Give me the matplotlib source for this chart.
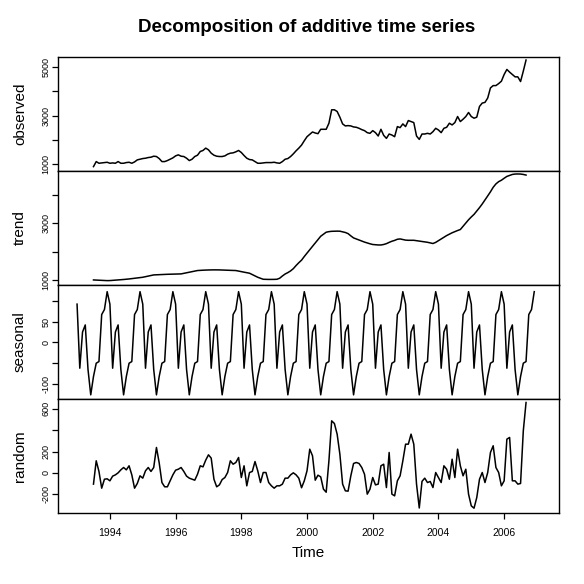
"""Additive decomposition panels: observed / trend / seasonal / random."""

import numpy as np
import matplotlib

matplotlib.use("Agg")
import matplotlib.pyplot as plt

plt.rcParams["font.family"] = ["Liberation Sans", "DejaVu Sans"]

# monthly series, observed/trend/random run Jul 1993 .. Sep 2006
START_YEAR = 1993.5

observed = [
    889, 1097, 1028, 1042, 1055, 1069, 1028, 1042, 1028, 1097, 1028, 1028,
    1056, 1069, 1028, 1083, 1167, 1194, 1222, 1236, 1264, 1278, 1319, 1306,
    1222, 1097, 1097, 1139, 1194, 1250, 1333, 1375, 1319, 1306, 1236, 1139,
    1194, 1306, 1361, 1514, 1556, 1653, 1583, 1444, 1361, 1319, 1306, 1306,
    1333, 1403, 1444, 1458, 1500, 1556, 1472, 1347, 1236, 1181, 1167, 1097,
    1028, 1028, 1042, 1056, 1056, 1056, 1069, 1042, 1028, 1097, 1194, 1222,
    1306, 1417, 1542, 1653,
    1778, 1958, 2125, 2222, 2320, 2278, 2250, 2431, 2431, 2431, 2681, 3236,
    3236, 3167, 2931, 2653, 2570, 2583, 2570, 2528, 2514, 2472, 2417, 2375,
    2292, 2264, 2375, 2292, 2153, 2431, 2181, 2056, 2236, 2194, 2125, 2542,
    2500, 2653, 2542, 2792, 2750, 2708, 2153, 2014, 2236, 2236, 2264, 2236,
    2333, 2472, 2403, 2292, 2472, 2514, 2681, 2611, 2708, 2958, 2750, 2847,
    2958, 3125, 2958, 2889, 2931, 3375, 3514, 3542, 3722, 4139, 4236, 4236,
    4319, 4417, 4694, 4903, 4792, 4694, 4597, 4597, 4403, 4833, 5292,
]

trend = [
    1000, 995, 990, 985, 980, 976, 978, 985, 992, 1000, 1008, 1016,
    1024, 1035, 1047, 1060, 1072, 1084, 1095, 1115, 1135, 1155, 1178, 1183,
    1188, 1192, 1196, 1200, 1203, 1206, 1209, 1212, 1214, 1234, 1254, 1274,
    1294, 1314, 1333, 1340, 1345, 1350, 1353, 1356, 1357, 1357, 1355, 1352,
    1348, 1344, 1340, 1336, 1333, 1315, 1295, 1275, 1255, 1238, 1190, 1140,
    1095, 1060, 1024, 1020, 1018, 1018, 1020, 1024, 1060, 1140, 1210, 1260,
    1320, 1400, 1510, 1610, 1700, 1830, 1952, 2070, 2190, 2310, 2430, 2547,
    2620, 2690, 2710, 2722, 2726, 2728, 2726, 2705, 2680, 2640, 2560, 2488,
    2450, 2410, 2375, 2340, 2309, 2280, 2255, 2245, 2238, 2238, 2255, 2285,
    2330, 2370, 2400, 2440, 2452, 2430, 2410, 2404, 2404, 2404, 2390, 2375,
    2360, 2345, 2333, 2310, 2290, 2330, 2390, 2450, 2510, 2571, 2620, 2670,
    2710, 2750, 2785, 2900, 3020, 3130, 3230, 3321, 3440, 3560, 3690, 3830,
    3975, 4120, 4280, 4400, 4480, 4530, 4600, 4665, 4700, 4735, 4749, 4752,
    4749, 4735, 4713,
]

random_part = [
    -106, 113, 13, -144, -60, -56, -75, -31, -19, 0, 28, 50,
    28, 66, -19, -144, -100, -28, -50, 19, 50, 13, 50, 238,
    94, -91, -131, -131, -75, -19, 25, 34, 50, 13, -31, -50,
    -60, -69, -13, 66, 56, 119, 169, 138, -60, -131, -113, -63,
    -44, 3, 113, 81, 97, 144, -44, 66, -122, 3, 13, 106,
    19, -91, 3, 3, -91, -122, -144, -122, -122, -106, -50, -50,
    -19, 0, -19, -50,
    -140, -75, 19, 222, 160, -69, -22, -38, -153, -182, 113, 488,
    463, 363, 175, -106, -169, -172, -28, 88, 97, 88, 50, -13,
    -200, -153, -44, -113, -106, 66, 81, -138, 191, -200, -216, -75,
    -28, 113, 269, 269, 363, 269, -106, -330, -80, -50, -91, -81,
    -138, 3, -44, -91, 66, 34, -60, 128, -44, 222, 66, -28,
    34, -200, -310, -332, -232, -60, 3, -91, 3, 191, 254, 50,
    3, -122, -75, 316, 332, -75, -75, -106, -100, 394, 660,
]

# one seasonal cycle, Jan..Dec; the seasonal panel runs Jan 1993 .. Dec 2006
seasonal_cycle = [92, -62, 25, 42, -65, -126, -82, -50, -46, 67, 79, 122]
SEASONAL_YEARS = 14

panels = [
    ("observed", (708, 5417), [1000, 2000, 3000, 4000, 5000], [1000, 3000, 5000]),
    ("trend", (821, 4857), [1000, 2000, 3000, 4000], [1000, 3000]),
    ("seasonal", (-136, 138), [-100, -50, 0, 50, 100], [-100, 0, 50]),
    ("random", (-377, 693), [-200, 0, 200, 400, 600], [-200, 0, 200, 600]),
]

W = H = 584


def px(x, y):
    return x / W, 1 - y / H


t_obs = START_YEAR + np.arange(len(observed)) / 12
t_seas = 1993 + np.arange(12 * SEASONAL_YEARS) / 12
seasonal = np.tile(seasonal_cycle, SEASONAL_YEARS)

series = {
    "observed": (t_obs, observed),
    "trend": (t_obs, trend),
    "seasonal": (t_seas, seasonal),
    "random": (t_obs, random_part),
}

fig = plt.figure(figsize=(W / 100, H / 100), dpi=100)

left, right = 58, 559
top, bottom = 57, 513
ph = (bottom - top) / 4
xlim = (1992.42, 2007.67)

for i, (name, ylim, ticks, labelled) in enumerate(panels):
    y0 = top + i * ph
    ax = fig.add_axes([left / W, 1 - (y0 + ph) / H, (right - left) / W, ph / H])
    t, v = series[name]
    ax.plot(t, v, color="black", lw=1.1)
    ax.set_xlim(*xlim)
    ax.set_ylim(*ylim)
    ax.set_yticks(ticks)
    ax.set_yticklabels([f"{k:d}" if k in labelled else "" for k in ticks],
                       rotation=90, va="center", fontsize=6.5)
    ax.tick_params(axis="y", length=4, width=0.9, pad=1.5)
    for sp in ax.spines.values():
        sp.set_linewidth(1.0)
    if i < 3:
        ax.tick_params(axis="x", bottom=False, labelbottom=False)
    else:
        ax.set_xticks(range(1994, 2007, 2))
        ax.tick_params(axis="x", length=4, width=0.9, pad=7, labelsize=7.5)
    cx, cy = px(20, y0 + ph / 2)
    fig.text(cx, cy, name, rotation=90, ha="center", va="center", fontsize=11)

fig.text(*px(307, 28), "Decomposition of additive time series",
         ha="center", va="center", fontsize=13.5, fontweight="bold")
fig.text(*px(308, 553), "Time", ha="center", va="center", fontsize=11)

fig.savefig("out.png", dpi=100)
